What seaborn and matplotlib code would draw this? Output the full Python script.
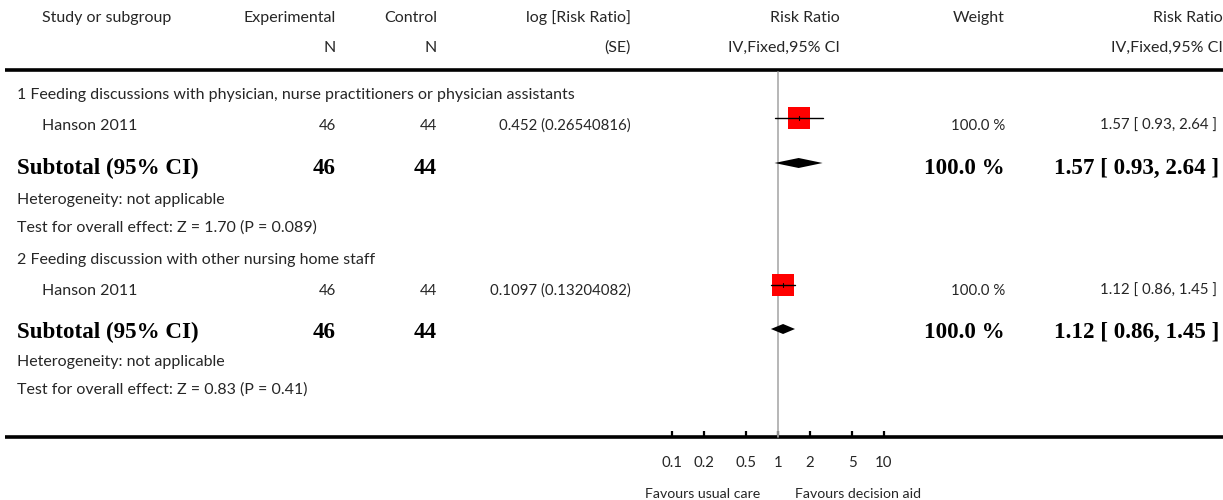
import matplotlib
matplotlib.use("Agg")
import matplotlib.pyplot as plt
import seaborn as sns
import pandas as pd
import numpy as np

# ---------------- data ----------------
group_titles = [
    "1 Feeding discussions with physician, nurse practitioners or physician assistants",
    "2 Feeding discussion with other nursing home staff",
]
studies = ["Hanson 2011", "Hanson 2011"]
exp_n = [46, 46]
ctrl_n = [44, 44]
log_rr = ["0.452", "0.1097"]
log_se = ["0.26540816", "0.13204082"]
rr = [1.57, 1.12]
rr_lo = [0.93, 0.86]
rr_hi = [2.64, 1.45]
weights = [100.0, 100.0]
heterogeneity = ["not applicable", "not applicable"]
z_vals = ["1.70", "0.83"]
p_vals = ["0.089", "0.41"]
tick_vals = [0.1, 0.2, 0.5, 1, 2, 5, 10]
tick_labels = ["0.1", "0.2", "0.5", "1", "2", "5", "10"]
favours_left = "Favours usual care"
favours_right = "Favours decision aid"

# ---------------- style ----------------
sns.set_theme(style="white")
plt.rcParams["font.family"] = ["Lato", "DejaVu Sans"]
TXT = "#262626"
FS = 11.5      # words
FSN = 10.8     # numeric columns
BFS = 16.6     # bold subtotal rows
W, H = 1223, 500

fig = plt.figure(figsize=(W / 100, H / 100), dpi=100)
bg = fig.add_axes([0, 0, 1, 1])
bg.set_xlim(0, W)
bg.set_ylim(H, 0)
bg.axis("off")

# layout (pixel rows)
hdr1_y, hdr2_y = 18, 48
top_line_y, axis_y = 70, 437
text_rows = [(95, 126, 168, 200, 228), (260, 291, 332, 362, 390)]
marker_rows = [(118, 163), (285, 329)]

x_study_hdr, x_group, x_study = 42, 17, 42
x_exp, x_ctrl, x_logse = 336, 437, 631
x_rr_hdr, x_weight, x_rr_text = 840, 1005, 1221

def t(x, y, s, ha="left", bold=False, size=None):
    if bold:
        bg.text(x, y, s, ha=ha, va="center", color="black",
                fontsize=size or BFS, fontweight="bold",
                family=["Liberation Serif", "DejaVu Serif"])
    else:
        bg.text(x, y, s, ha=ha, va="center", color=TXT, fontsize=size or FS)

# headers
t(x_study_hdr, hdr1_y, "Study or subgroup")
t(x_exp, hdr1_y, "Experimental", "right")
t(x_ctrl, hdr1_y, "Control", "right")
t(x_logse, hdr1_y, "log [Risk Ratio]", "right")
t(x_rr_hdr, hdr1_y, "Risk Ratio", "right")
t(x_weight, hdr1_y, "Weight", "right")
t(x_rr_text + 2, hdr1_y, "Risk Ratio", "right")
t(x_exp, hdr2_y, "N", "right")
t(x_ctrl, hdr2_y, "N", "right")
t(x_logse, hdr2_y, "(SE)", "right")
t(x_rr_hdr, hdr2_y, "IV,Fixed,95% CI", "right")
t(x_rr_text + 2, hdr2_y, "IV,Fixed,95% CI", "right")

bg.plot([5, W], [top_line_y, top_line_y], color="black", lw=2.6, solid_capstyle="butt")
bg.plot([5, W], [axis_y, axis_y], color="black", lw=2.6, solid_capstyle="butt")

for i in range(2):
    gy, sy, suby, hy, ty = text_rows[i]
    t(x_group, gy, group_titles[i])
    t(x_study, sy, studies[i])
    t(x_exp, sy, str(exp_n[i]), "right", size=FSN)
    t(x_ctrl, sy, str(ctrl_n[i]), "right", size=FSN)
    t(x_logse, sy, f"{log_rr[i]} ({log_se[i]})", "right", size=FSN)
    t(x_weight, sy, f"{weights[i]:.1f} %", "right", size=FSN)
    t(x_rr_text - 4, sy, f"{rr[i]:.2f} [ {rr_lo[i]:.2f}, {rr_hi[i]:.2f} ]", "right", size=FSN)
    t(x_group, suby, "Subtotal (95% CI)", bold=True)
    t(x_exp, suby, str(exp_n[i]), "right", bold=True)
    t(x_ctrl, suby, str(ctrl_n[i]), "right", bold=True)
    t(x_weight, suby, f"{weights[i]:.1f} %", "right", bold=True)
    t(x_rr_text - 2, suby, f"{rr[i]:.2f} [ {rr_lo[i]:.2f}, {rr_hi[i]:.2f} ]", "right", bold=True)
    t(x_group, hy, f"Heterogeneity: {heterogeneity[i]}")
    t(x_group, ty, f"Test for overall effect: Z = {z_vals[i]} (P = {p_vals[i]})")

# ---------------- forest axes (log scale) ----------------
x_left_px, x_right_px = 671.7, 884.0   # pixel positions of 0.1 and 10
ax = fig.add_axes([x_left_px / W, (H - axis_y) / H,
                   (x_right_px - x_left_px) / W, (axis_y - top_line_y) / H])
ax.set_xscale("log")
ax.set_xlim(tick_vals[0], tick_vals[-1])
ax.set_ylim(axis_y, top_line_y)
ax.patch.set_alpha(0)
for sp in ax.spines.values():
    sp.set_visible(False)
ax.set_yticks([])
ax.set_xticks(tick_vals)
ax.set_xticklabels(tick_labels)
ax.xaxis.set_minor_locator(matplotlib.ticker.NullLocator())
ax.tick_params(axis="x", direction="in", length=4.3, width=1.6, color="black",
               pad=13.5, labelsize=FSN, labelcolor=TXT, bottom=True)

# no-effect line
ax.plot([1, 1], [top_line_y + 1.5, axis_y], color="#aaaaaa", lw=1.2, clip_on=False, zorder=1)

df = pd.DataFrame({"rr": rr, "lo": rr_lo, "hi": rr_hi,
                   "y": [m[0] for m in marker_rows], "dy": [m[1] for m in marker_rows]})
sns.scatterplot(data=df, x="rr", y="y", marker="s", s=15.8 ** 2, color="#ff0000",
                edgecolor="none", ax=ax, zorder=3, clip_on=False, legend=False)
for i, r in df.iterrows():
    ax.plot([r.lo, r.hi], [r.y, r.y], color="black", lw=1.0, zorder=4, clip_on=False)
    ax.plot([r.rr, r.rr], [r.y - 2, r.y + 2], color="black", lw=0.8, zorder=4, clip_on=False)
    h = 5
    ax.fill([r.lo, r.rr, r.hi, r.rr], [r.dy, r.dy - h, r.dy, r.dy + h],
            color="black", lw=0, zorder=4, clip_on=False)

ax.set_xlabel("")
ax.set_ylabel("")
ax.text(760, 494, favours_left, transform=bg.transData, ha="right", va="center",
        fontsize=10.2, color=TXT)
ax.text(795, 494, favours_right, transform=bg.transData, ha="left", va="center",
        fontsize=10.2, color=TXT)

fig.savefig("out.png", dpi=100)
